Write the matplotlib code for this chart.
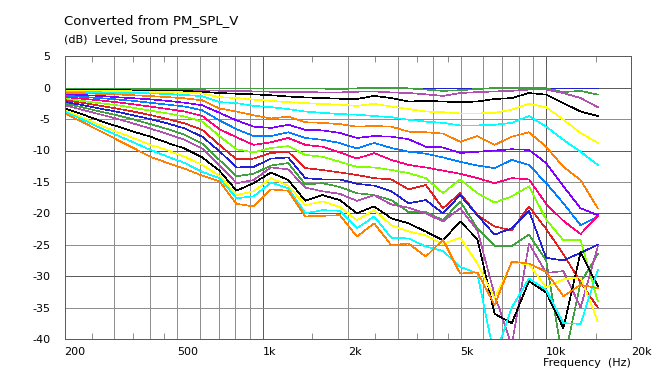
import matplotlib
matplotlib.use("Agg")
import matplotlib.pyplot as plt
from matplotlib.ticker import FixedLocator, NullFormatter

# ---------------- data ----------------
freqs = [200, 230, 264.5, 304, 350, 402, 463, 532, 612, 704, 809, 930, 1070, 1231,
         1415, 1627, 1872, 2152, 2475, 2847, 3274, 3765, 4330, 4979, 5726, 6585,
         7573, 8709, 10015, 11517, 13245, 15231]

spl_00 = [0.0] * 32
spl_05 = [-0.15, -0.15, -0.15, -0.15, -0.15, -0.15, -0.15, -0.15, -0.15, -0.15, -0.15, -0.15,
          -0.15, -0.15, -0.15, -0.15, -0.2, -0.1, -0.05, -0.05, -0.1, -0.3, -0.5, -0.4,
          -0.2, -0.05, 0.0, 0.0, -0.1, -0.7, -0.5, -1.1]
spl_10 = [-0.27, -0.28, -0.3, -0.3, -0.32, -0.33, -0.35, -0.38, -0.4, -0.48, -0.53, -0.58,
          -0.64, -0.7, -0.7, -0.75, -0.75, -0.64, -0.6, -0.75, -0.85, -1.06, -1.3, -0.85,
          -0.7, -0.6, -0.5, -0.3, -0.3, -0.85, -1.65, -3.1]
spl_15 = [-0.37, -0.37, -0.38, -0.4, -0.42, -0.45, -0.48, -0.53, -0.64, -0.85, -0.96, -1.06,
          -1.2, -1.4, -1.55, -1.65, -1.75, -1.8, -1.3, -1.65, -2.2, -2.1, -2.2, -2.3,
          -2.2, -1.8, -1.65, -0.85, -1.1, -2.45, -3.8, -4.5]
spl_20 = [-0.48, -0.5, -0.52, -0.53, -0.58, -0.64, -0.7, -0.74, -0.9, -1.5, -1.65, -1.9,
          -2.1, -2.3, -2.45, -2.6, -2.7, -2.9, -2.55, -3.0, -3.4, -3.8, -3.9, -4.1,
          -4.1, -4.0, -3.5, -2.55, -3.1, -5.1, -7.2, -8.8]
spl_25 = [-0.64, -0.68, -0.72, -0.8, -0.85, -0.9, -1.0, -1.17, -1.33, -2.3, -2.45, -2.9,
          -3.1, -3.4, -3.8, -4.0, -4.2, -4.3, -4.5, -4.7, -5.1, -5.4, -5.6, -6.0,
          -6.0, -5.9, -5.6, -4.5, -6.2, -8.3, -10.2, -12.3]
spl_30 = [-0.8, -0.88, -0.97, -1.06, -1.2, -1.33, -1.5, -1.7, -2.0, -3.3, -3.8, -4.4,
          -4.9, -4.6, -5.5, -5.6, -5.8, -6.2, -6.1, -6.2, -7.0, -7.1, -7.3, -8.6,
          -7.7, -9.1, -7.8, -7.1, -9.4, -12.6, -14.7, -19.2]
spl_35 = [-1.06, -1.17, -1.3, -1.5, -1.68, -1.86, -2.1, -2.4, -2.8, -4.0, -5.2, -6.2,
          -6.4, -5.9, -6.7, -6.8, -7.2, -8.0, -7.7, -7.8, -8.2, -9.4, -9.5, -10.4,
          -10.2, -10.0, -9.8, -9.9, -12.0, -15.7, -19.2, -20.3]
spl_40 = [-1.27, -1.45, -1.65, -1.86, -2.1, -2.4, -2.7, -3.0, -3.6, -5.2, -6.6, -7.7,
          -7.7, -7.1, -8.0, -8.3, -8.8, -9.7, -8.8, -9.6, -10.2, -10.5, -11.1, -11.8,
          -12.4, -12.8, -11.5, -12.3, -15.2, -18.4, -21.9, -20.5]
spl_45 = [-1.49, -1.75, -2.0, -2.3, -2.65, -3.0, -3.4, -3.8, -4.5, -6.6, -7.9, -9.1,
          -8.7, -8.0, -9.1, -9.4, -10.3, -11.3, -10.4, -11.5, -12.3, -12.7, -13.2, -13.7,
          -14.4, -15.2, -14.4, -14.6, -18.5, -21.2, -23.3, -20.4]
spl_50 = [-1.75, -2.1, -2.45, -2.76, -3.2, -3.66, -4.1, -4.6, -5.4, -7.7, -9.8, -10.3,
          -9.6, -9.3, -10.7, -11.0, -11.8, -12.6, -12.7, -13.1, -13.6, -14.4, -16.8, -14.6,
          -16.8, -18.3, -17.3, -15.7, -21.0, -24.3, -24.3, -34.0]
spl_55 = [-1.96, -2.4, -2.85, -3.3, -3.8, -4.35, -5.0, -5.7, -6.7, -9.1, -11.4, -11.3,
          -10.4, -10.2, -12.8, -13.1, -13.5, -13.9, -14.4, -14.6, -16.2, -15.5, -19.2, -16.8,
          -20.3, -22.1, -22.7, -18.9, -22.5, -26.5, -31.0, -35.0]
spl_60 = [-2.23, -2.75, -3.3, -3.8, -4.4, -5.0, -5.7, -6.5, -7.8, -10.1, -12.7, -12.6,
          -11.3, -11.1, -14.4, -14.6, -14.6, -15.3, -15.6, -16.5, -18.4, -17.9, -20.0, -17.1,
          -20.3, -23.4, -22.4, -19.6, -27.1, -27.5, -26.3, -25.0]
spl_65 = [-2.5, -3.1, -3.75, -4.35, -5.05, -5.8, -6.6, -7.5, -8.9, -11.5, -14.1, -13.7,
          -12.4, -12.0, -15.4, -15.2, -15.8, -16.8, -17.1, -17.9, -19.8, -19.8, -21.1, -18.1,
          -22.4, -25.2, -25.2, -23.4, -27.5, -44.0, -31.0, -26.5]
spl_70 = [-2.76, -3.5, -4.2, -4.9, -5.7, -6.5, -7.4, -8.3, -9.7, -12.3, -15.2, -14.7,
          -12.7, -13.0, -15.9, -16.5, -16.9, -18.0, -17.1, -18.6, -19.1, -20.0, -21.3, -19.2,
          -22.7, -33.0, -41.0, -24.8, -29.5, -29.2, -35.0, -25.3]
spl_75 = [-3.3, -4.2, -5.2, -6.1, -7.0, -7.8, -8.8, -9.7, -11.1, -13.2, -16.4, -15.2,
          -13.5, -14.7, -18.0, -17.1, -17.9, -20.0, -18.9, -20.8, -21.6, -22.9, -24.3, -21.3,
          -24.1, -36.0, -37.5, -30.8, -32.6, -38.3, -26.2, -31.6]
spl_80 = [-3.56, -4.7, -5.9, -7.0, -8.0, -9.1, -10.0, -11.0, -12.3, -14.0, -17.1, -16.5,
          -14.4, -15.6, -18.7, -18.1, -19.0, -21.1, -19.5, -21.9, -22.9, -23.5, -24.9, -23.9,
          -28.0, -33.5, -27.9, -28.1, -31.8, -30.5, -30.2, -37.2]
spl_85 = [-3.82, -5.0, -6.3, -7.5, -8.7, -9.9, -11.0, -12.0, -13.4, -14.4, -17.6, -17.3,
          -15.1, -16.0, -20.0, -19.5, -19.6, -22.4, -20.5, -23.9, -24.0, -25.3, -26.0, -28.5,
          -29.6, -43.0, -35.0, -30.4, -32.2, -37.5, -37.6, -29.0]
spl_90 = [-4.09, -5.4, -6.8, -8.2, -9.6, -11.0, -12.0, -12.9, -14.0, -14.9, -18.5, -18.9,
          -16.2, -16.4, -20.5, -20.4, -20.3, -23.7, -21.6, -25.1, -24.8, -26.9, -24.2, -29.6,
          -29.4, -34.6, -27.7, -28.0, -29.3, -33.2, -31.4, -31.9]

curves = [spl_00, spl_05, spl_10, spl_15, spl_20, spl_25, spl_30, spl_35, spl_40, spl_45,
          spl_50, spl_55, spl_60, spl_65, spl_70, spl_75, spl_80, spl_85, spl_90]

palette = ["#2020D0", "#40A040", "#B050B0", "#000000", "#FFFF00", "#00FFFF",
           "#FF8000", "#8000FF", "#0080FF", "#FF0080", "#80FF00", "#E02020"]

xtick_vals = [200, 500, 1000, 2000, 5000, 10000, 20000]
xtick_labels = ["200", "500", "1k", "2k", "5k", "10k", "20k"]
ytick_vals = [5, 0, -5, -10, -15, -20, -25, -30, -35, -40]

# ---------------- figure ----------------
W, H = 654, 374
fig = plt.figure(figsize=(W / 100, H / 100), dpi=100)
L, R, T, B = 64.5, 631.3, 56.3, 338.9
ax = fig.add_axes([L / W, 1 - B / H, (R - L) / W, (B - T) / H])
ax.set_xscale("log")
ax.set_xlim(200, 20000)
ax.set_ylim(-40, 5)

PX = 0.72  # one pixel in points
light = "#8f8f8f"
dark = "#5c5c5c"
grid_light = [200, 300, 400, 500, 600, 700, 800, 900, 2000, 3000, 4000, 5000,
              6000, 7000, 8000, 9000]
grid_dark = [1000, 10000]
for g in grid_light:
    ax.axvline(g, color=light, lw=PX, zorder=0, antialiased=False)
for g in grid_dark:
    ax.axvline(g, color=dark, lw=PX, zorder=0, antialiased=False)
for v in ytick_vals:
    ax.axhline(v, color=dark if v % 10 == 0 else light, lw=PX, zorder=0,
               antialiased=False)

for i, c in enumerate(curves):
    ax.plot(freqs, c, color=palette[i % 12], lw=0.45, antialiased=False, zorder=2)

ax.xaxis.set_major_locator(FixedLocator(xtick_vals))
ax.set_xticklabels(xtick_labels)
ax.xaxis.set_minor_locator(FixedLocator([250, 350, 450, 1500, 2500, 3500, 4500, 15000]))
ax.xaxis.set_minor_formatter(NullFormatter())
ax.tick_params(axis="x", which="major", length=0, pad=6, labelsize=8)
ax.tick_params(axis="x", which="minor", direction="in", length=4, top=True,
               bottom=True, color=light, width=PX)
for lbl in ax.get_xticklabels():
    lbl.set_horizontalalignment("left")
ax.set_yticks(ytick_vals)
ax.set_yticklabels([str(v) for v in ytick_vals])
ax.tick_params(axis="y", which="major", length=0, pad=10, labelsize=8)

for s in ax.spines.values():
    s.set_color(dark)
    s.set_linewidth(PX)

fig.text(L / W, 1 - 21 / H, "Converted from PM_SPL_V", fontsize=9.5,
         ha="left", va="center")
fig.text(L / W, 1 - 40 / H, "(dB)  Level, Sound pressure", fontsize=8,
         ha="left", va="center")
fig.text(R / W, 1 - 363 / H, "Frequency  (Hz)", fontsize=8, ha="right", va="center")

fig.savefig("out.png", dpi=100)
